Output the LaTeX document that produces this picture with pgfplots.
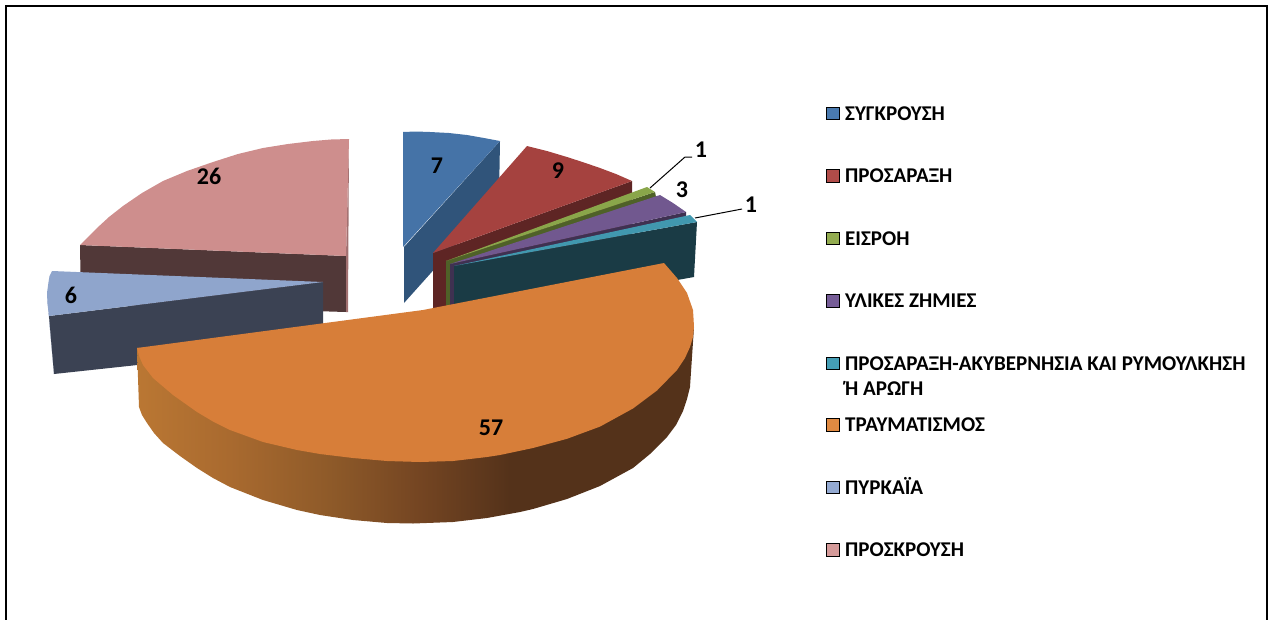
\documentclass[border=0pt]{standalone}
\usepackage{fontspec}
\setmainfont{Carlito}
\usepackage{pgfplots}
\pgfplotsset{compat=1.18}
\definecolor{cBlue}{HTML}{4573A7}\definecolor{cBlueS}{HTML}{30547A}\definecolor{lBlue}{HTML}{4A7AAF}
\definecolor{cRed}{HTML}{A5423F}\definecolor{cRedS}{HTML}{5E2524}\definecolor{lRed}{HTML}{B14C49}
\definecolor{cGreen}{HTML}{8AA64A}\definecolor{cGreenS}{HTML}{4F6128}\definecolor{lGreen}{HTML}{93AC50}
\definecolor{cPurple}{HTML}{71588F}\definecolor{cPurpleS}{HTML}{3F3151}\definecolor{lPurple}{HTML}{765D97}
\definecolor{cTeal}{HTML}{4198AF}\definecolor{cTealS}{HTML}{1A3B45}\definecolor{lTeal}{HTML}{459EB5}
\definecolor{cOrange}{HTML}{D77E39}\definecolor{lOrange}{HTML}{E08A42}
\definecolor{cSky}{HTML}{8FA5CC}\definecolor{cSkyS}{HTML}{3B4253}\definecolor{cSkyR}{HTML}{6E80A8}\definecolor{lSky}{HTML}{94AAD2}
\definecolor{cRose}{HTML}{CE8E8D}\definecolor{cRoseS}{HTML}{513838}\definecolor{cRoseR}{HTML}{A17070}\definecolor{lRose}{HTML}{D59A99}
\definecolor{oA}{HTML}{BA7733}\definecolor{oB}{HTML}{A96A2F}\definecolor{oC}{HTML}{8E5A29}\definecolor{oD}{HTML}{744522}\definecolor{oE}{HTML}{54321A}
\pgfdeclarehorizontalshading{orangeside}{100bp}{color(0bp)=(oA); color(25bp)=(oA); color(33.3bp)=(oB); color(42.3bp)=(oC); color(50.4bp)=(oD); color(58.5bp)=(oE); color(75bp)=(oE); color(100bp)=(oE)}
\newcommand{\lbl}{\fontsize{24}{26}\selectfont\bfseries}
\newcommand{\leg}{\fontsize{21}{24}\selectfont\bfseries}
\begin{document}
\begin{tikzpicture}
\begin{axis}[
  scale only axis, width=1269pt, height=619pt,
  xmin=0, xmax=1269, ymin=0, ymax=619, y dir=reverse,
  axis lines=none, clip=true,
  every axis plot/.append style={draw=none}
]
% frame
\addplot[draw=black, line width=2pt] coordinates {(6,625) (6,6) (1267,6) (1267,625)};
% rose (26)
\addplot[fill=cRoseS] coordinates {(80,245) (81,304) (346,312) (346,256)} --cycle;
\addplot[fill=cRoseR] coordinates {(349,139) (346,256) (346,312) (348,312)} --cycle;
\addplot[fill=cRose] coordinates {(346,256) (349,139) (331,139.5) (313,141) (288,144) (263,148) (238,154) (213,162) (187,171) (163,181) (142,193) (123,206) (109,217) (97,228) (88,237) (80,245)} --cycle;
% sky (6)
\addplot[fill=cSkyR] coordinates {(47,293) (49,316) (54,374) (50,330)} --cycle;
\addplot[fill=cSkyS] coordinates {(49,316) (323,282) (323,345) (54,374)} --cycle;
\addplot[fill=cSky] coordinates {(323,282) (52,271) (49.5,276) (48.5,282) (47,293) (47.5,304) (49,316)} --cycle;
% blue (7)
\addplot[fill=cBlueS] coordinates {(500,141) (499,197) (404,303) (404,247)} --cycle;
\addplot[fill=cBlue] coordinates {(403,247) (403,132) (416,131.5) (430,132) (449,133) (467,135) (484,138) (500,141)} --cycle;
% red (9)
\addplot[fill=cRedS] coordinates {(433,253) (632,181) (632,236) (433,312)} --cycle;
\addplot[fill=cRed] coordinates {(433,253) (527,146) (547,151) (567,157) (584,162.5) (600,168) (616,174) (632,181)} --cycle;
% green (1)
\addplot[fill=cGreenS] coordinates {(446,261) (655,192) (656,197) (450,265) (450,312) (446,312)} --cycle;
\addplot[fill=cGreen] coordinates {(446,261) (647,187) (655,192)} --cycle;
% purple (3)
\addplot[fill=cPurpleS] coordinates {(450,264) (686,212) (686,217) (454,268) (454,312) (450,312)} --cycle;
\addplot[fill=cPurple] coordinates {(450,264) (660,195) (673,203) (686,212)} --cycle;
% teal (1)
\addplot[fill=cTealS] coordinates {(454,266) (697,222) (694,277) (454,320)} --cycle;
\addplot[fill=cTeal] coordinates {(454,266) (690,215) (697,222)} --cycle;
% orange (57)
\addplot[shading=orangeside] coordinates {(137,348) (139,407) (142,415) (147,423) (154,433) (163,443) (180,456) (197,468) (213,478) (230,487) (263,500) (297,510) (320,515) (353,520) (387,523) (413,523.5) (453,522) (487,518) (520,512) (533,509) (567,499) (600,486) (633,468) (650,454) (667,437) (676,425) (683,411) (687,399) (690,387) (694,327)} --cycle;
\addplot[fill=cOrange] coordinates {(664,263) (423,310) (137,348) (139.5,357) (143,365) (153,378) (173,395) (197,412) (213,421.5) (230,430) (263,442) (297,450) (320,454) (353,458) (387,461) (420,462) (453,461) (487,457) (500,455) (533,448) (567,438.8) (600,426.6) (633,408.5) (657,390.5) (677,370) (685,358) (690,347) (693,337) (694,327) (693.5,318) (693,310) (687,293) (677,278)} --cycle;
% leader lines
\addplot[draw=black, line width=1pt] coordinates {(650,188) (685,157) (692,157)};
\addplot[draw=black, line width=1pt] coordinates {(695,218) (742,209)};
% data labels
\node[font=\lbl] at (axis cs:437,166) {7};
\node[font=\lbl] at (axis cs:558,171) {9};
\node[font=\lbl] at (axis cs:701,150) {1};
\node[font=\lbl] at (axis cs:682,190) {3};
\node[font=\lbl] at (axis cs:751,205) {1};
\node[font=\lbl] at (axis cs:491,428) {57};
\node[font=\lbl] at (axis cs:71,295) {6};
\node[font=\lbl] at (axis cs:209,176) {26};
% legend
\addplot[only marks, mark=square*, mark size=6.3pt, mark options={draw=none, fill=lBlue}] coordinates {(832.5,113)};
\addplot[only marks, mark=square*, mark size=6.3pt, mark options={draw=none, fill=lRed}] coordinates {(832.5,175.5)};
\addplot[only marks, mark=square*, mark size=6.3pt, mark options={draw=none, fill=lGreen}] coordinates {(832.5,238)};
\addplot[only marks, mark=square*, mark size=6.3pt, mark options={draw=none, fill=lPurple}] coordinates {(832.5,300.5)};
\addplot[only marks, mark=square*, mark size=6.3pt, mark options={draw=none, fill=lTeal}] coordinates {(832.5,363)};
\addplot[only marks, mark=square*, mark size=6.3pt, mark options={draw=none, fill=lOrange}] coordinates {(832.5,424.5)};
\addplot[only marks, mark=square*, mark size=6.3pt, mark options={draw=none, fill=lSky}] coordinates {(832.5,487)};
\addplot[only marks, mark=square*, mark size=6.3pt, mark options={draw=none, fill=lRose}] coordinates {(832.5,549.5)};
\node[font=\leg, anchor=base west, inner sep=0pt] at (axis cs:845,120) {ΣΥΓΚΡΟΥΣΗ};
\node[font=\leg, anchor=base west, inner sep=0pt] at (axis cs:845,182.5) {ΠΡΟΣΑΡΑΞΗ};
\node[font=\leg, anchor=base west, inner sep=0pt] at (axis cs:845,245) {ΕΙΣΡΟΗ};
\node[font=\leg, anchor=base west, inner sep=0pt] at (axis cs:845,307.5) {ΥΛΙΚΕΣ ΖΗΜΙΕΣ};
\node[font=\leg, anchor=base west, inner sep=0pt] at (axis cs:845,370) {ΠΡΟΣΑΡΑΞΗ-ΑΚΥΒΕΡΝΗΣΙΑ ΚΑΙ ΡΥΜΟΥΛΚΗΣΗ};
\node[font=\leg, anchor=base west, inner sep=0pt] at (axis cs:845,395) {Ή ΑΡΩΓΗ};
\node[font=\leg, anchor=base west, inner sep=0pt] at (axis cs:845,431.5) {ΤΡΑΥΜΑΤΙΣΜΟΣ};
\node[font=\leg, anchor=base west, inner sep=0pt] at (axis cs:845,494) {ΠΥΡΚΑΪΑ};
\node[font=\leg, anchor=base west, inner sep=0pt] at (axis cs:845,556.5) {ΠΡΟΣΚΡΟΥΣΗ};
\end{axis}
\path (0,0) rectangle (1269pt,619pt);
\end{tikzpicture}
\end{document}
